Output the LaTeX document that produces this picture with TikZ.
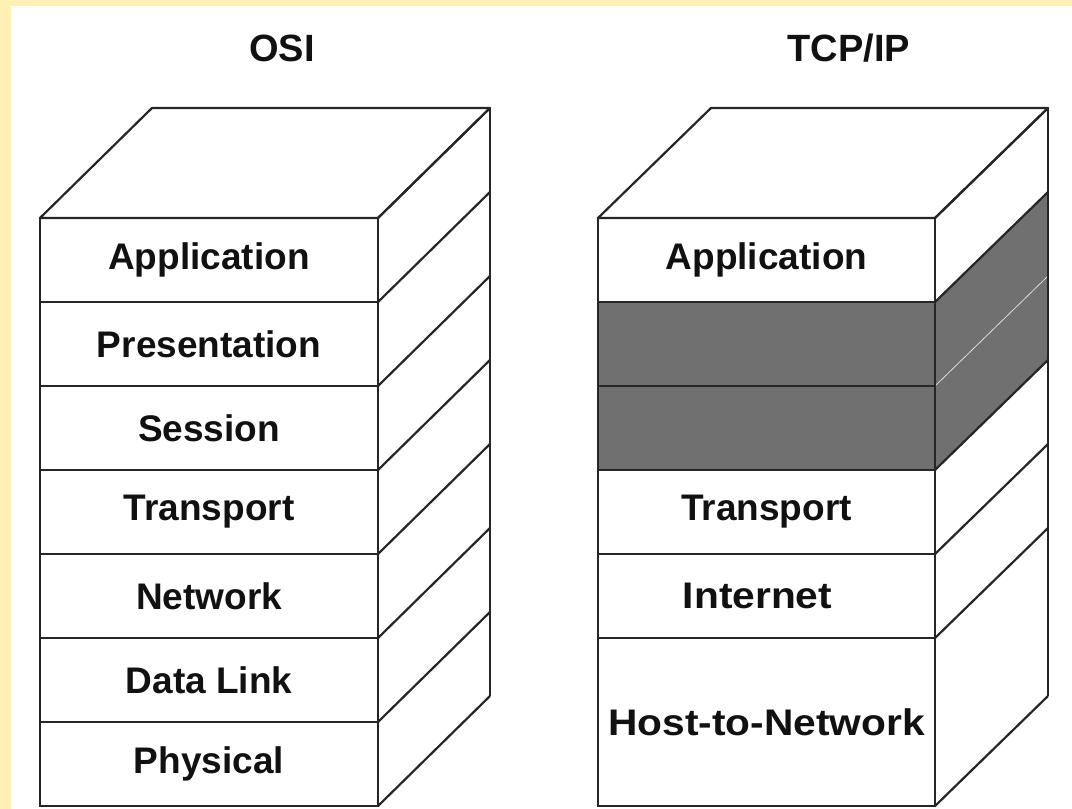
\documentclass[tikz,border=0pt]{standalone}
\usepackage{fontspec}
\usetikzlibrary{calc}
\setmainfont{Liberation Sans}
\definecolor{pagebg}{HTML}{FFF1B5}
\definecolor{edge}{HTML}{262626}
\definecolor{layergray}{HTML}{707070}
\definecolor{ink}{HTML}{111111}
\begin{document}
\begin{tikzpicture}[x=1pt,y=-1pt,
  layer/.style={draw=edge, line width=2.2pt, fill=white, inner sep=0pt, outer sep=0pt,
    anchor=north west, minimum height=84pt, text=ink,
    font=\fontsize{37}{40}\selectfont\bfseries},
  osilayer/.style={layer, minimum width=338pt},
  tcplayer/.style={layer, minimum width=337pt},
  title/.style={text=ink, font=\fontsize{38}{42}\selectfont\bfseries},
  wire/.style={draw=edge, line width=2.2pt, line join=round},
  faint/.style={draw=white!75!layergray, line width=0.8pt}]

% page, with the pale yellow strips on the left and top
\fill[white] (0,0) rectangle (1072,809);
\useasboundingbox (0,0) rectangle (1072,809);
\fill[pagebg] (0,0) rectangle (11,809);
\fill[pagebg] (0,0) rectangle (1072,6);

% titles
\node[title] (osititle) at (282,48) {OSI};
\node[title] (tcptitle) at (849,48) {TCP/IP};

% ---------------- OSI stack ----------------
\node[osilayer] (o1) at (40,218) {Application};
\node[osilayer] (o2) at (40,302) {Presentation};
\node[osilayer] (o3) at (40,386) {Session};
\node[osilayer] (o4) at (40,470) {Transport};
\node[osilayer] (o5) at (40,554) {Network};
\node[osilayer] (o6) at (40,638) {Data Link};
\node[osilayer] (o7) at (40,722) {Physical};

% top face
\draw[wire, fill=white] (o1.north west) -- ++(112,-110) coordinate (otl)
  -- ++(338,0) coordinate (otr) -- (o1.north east) -- cycle;
% side face: back edge and one slanted edge per layer boundary
\draw[wire] (otr) -- ($(o7.south east)+(112,-110)$);
\foreach \n in {1,...,7} {
  \draw[wire] (o\n.north east) -- ++(112,-110);
}
\draw[wire] (o7.south east) -- ++(112,-110);

% ---------------- TCP/IP stack ----------------
\node[tcplayer] (t1) at (598,218) {Application};
\node[tcplayer, fill=layergray] (t2) at (598,302) {};
\node[tcplayer, fill=layergray] (t3) at (598,386) {};
\node[tcplayer] (t4) at (598,470) {Transport};
\node[tcplayer] (t5) at (598,554) {\scalebox{1.1}[1]{Internet}\hspace*{18pt}};
\node[tcplayer, minimum height=168pt] (t6) at (598,638) {\scalebox{1.1}[1]{Host-to-Network}};

% top face
\draw[wire, fill=white] (t1.north west) -- ++(113,-110) coordinate (ttl)
  -- ++(337,0) coordinate (ttr) -- (t1.north east) -- cycle;
% grey side of the two merged layers
\fill[layergray] (t2.north east) -- ++(113,-110) -- ($(t3.south east)+(113,-110)$)
  -- (t3.south east) -- cycle;
\draw[faint] (t3.north east) -- ++(113,-110);
% side face edges
\draw[wire] (ttr) -- ($(t6.south east)+(113,-110)$);
\draw[wire] (t1.north east) -- ++(113,-110);
\draw[wire] (t2.north east) -- ++(113,-110);
\draw[wire] (t4.north east) -- ++(113,-110);
\draw[wire] (t5.north east) -- ++(113,-110);
\draw[wire] (t6.north east) -- ++(113,-110);
\draw[wire] (t6.south east) -- ++(113,-110);
% front verticals drawn again over the grey side
\draw[wire] (t2.north east) -- (t3.south east);
\end{tikzpicture}
\end{document}
